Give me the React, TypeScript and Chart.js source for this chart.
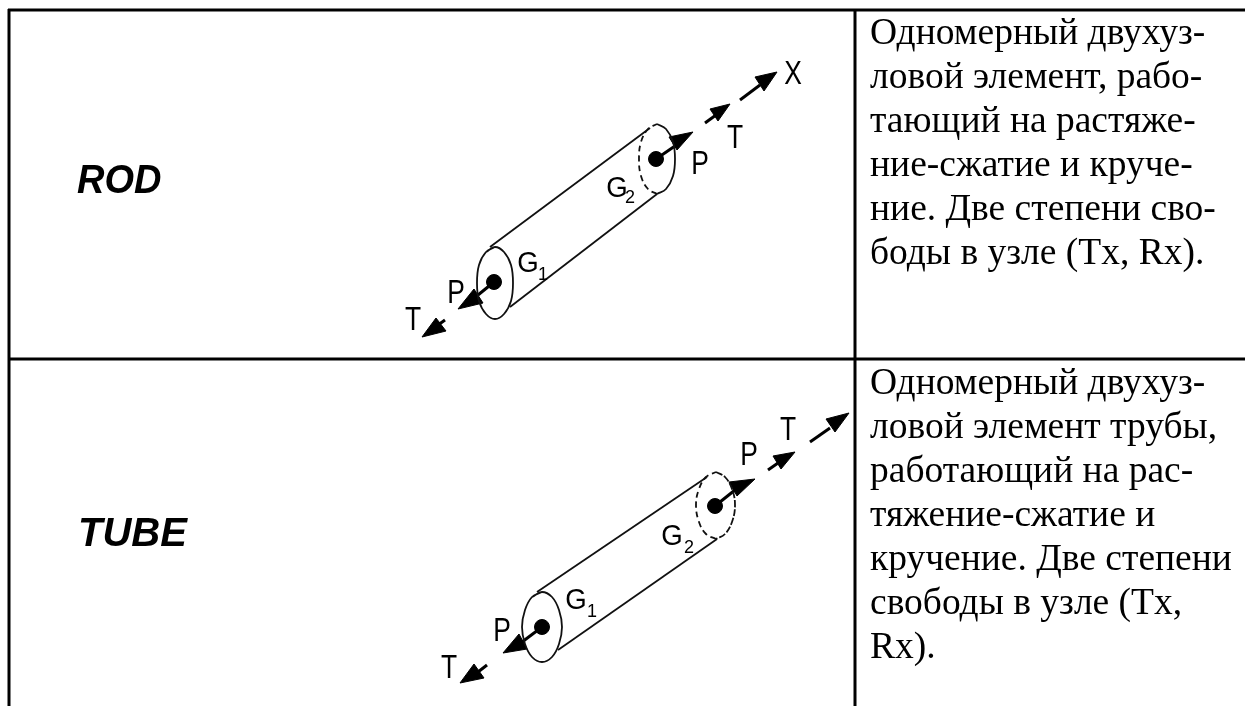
import React, { useEffect, useRef } from "react";
import { Chart, registerables } from "chart.js";

Chart.register(...registerables);

type P = [number, number];

// Table rules
const ruleTop: P[] = [[8, 10], [1245, 10]];
const ruleLeft: P[] = [[9, 9], [9, 706]];
const ruleMiddle: P[] = [[855, 9], [855, 706]];
const ruleRow: P[] = [[8, 359], [1245, 359]];

// ROD drawing
const rodCylTop: P[] = [[490, 247], [650, 128]];
const rodCylBottom: P[] = [[510, 307], [657, 194]];
const rodEndA: P[] = [[486, 252], [495, 247], [504, 252], [511, 265], [513, 283], [511, 301], [504, 314], [495, 319], [486, 314], [479, 301], [477, 283], [479, 265], [486, 252], [495, 247]];
const rodEndBSolid: P[] = [[657, 124], [666, 129], [673, 142], [675, 159], [673, 176], [666, 189], [657, 194]];
const rodEndBHidden: P[] = [[657, 194], [648, 189], [641, 176], [639, 159], [641, 142], [648, 129], [657, 124]];
const rodNodes: P[] = [[494, 282], [656, 159]];
const rodShafts: P[][] = [
  [[656, 159], [675, 146]],
  [[705, 123], [716, 115]],
  [[740, 100], [760, 85]],
  [[494, 282], [478, 295]],
  [[445, 320], [438, 325]],
];
const rodHeads: P[][] = [
  [[693, 132], [669, 137], [677, 150], [693, 132]],
  [[730, 104], [710, 109], [718, 121], [730, 104]],
  [[777, 72], [755, 77], [764, 91], [777, 72]],
  [[458, 309], [474, 289], [483, 303], [458, 309]],
  [[422, 337], [436, 318], [446, 331], [422, 337]],
];

// TUBE drawing
const tubeCylTop: P[] = [[537, 592], [707, 477]];
const tubeCylBottom: P[] = [[558, 650], [717, 539]];
const tubeEndA: P[] = [[532, 597], [542, 592], [552, 597], [559, 610], [562, 627], [559, 644], [552, 657], [542, 662], [532, 657], [525, 644], [522, 627], [525, 610], [532, 597], [542, 592]];
const tubeEndBRight: P[] = [[716, 472], [725, 477], [732, 489], [735, 505], [732, 522], [725, 534], [716, 539]];
const tubeEndBLeft: P[] = [[716, 539], [706, 534], [699, 522], [696, 505], [699, 489], [706, 477], [716, 472]];
const tubeNodes: P[] = [[542, 627], [715, 506]];
const tubeShafts: P[][] = [
  [[715, 506], [735, 490]],
  [[768, 470], [778, 463]],
  [[810, 442], [830, 428]],
  [[542, 627], [522, 642]],
  [[487, 665], [478, 672]],
];
const tubeHeads: P[][] = [
  [[755, 479], [729, 482], [737, 496], [755, 479]],
  [[795, 452], [773, 456], [781, 469], [795, 452]],
  [[849, 413], [826, 419], [835, 432], [849, 413]],
  [[503, 653], [519, 634], [527, 649], [503, 653]],
  [[460, 683], [474, 664], [484, 678], [460, 683]],
];

// Text
const rowNames = ["ROD", "TUBE"];
const rodText = [
  "Одномерный двухуз-",
  "ловой элемент, рабо-",
  "тающий на растяже-",
  "ние-сжатие и круче-",
  "ние. Две степени сво-",
  "боды в узле (Tx, Rx).",
];
const tubeText = [
  "Одномерный двухуз-",
  "ловой элемент трубы,",
  "работающий на рас-",
  "тяжение-сжатие и",
  "кручение. Две степени",
  "свободы в узле (Tx,",
  "Rx).",
];
const letterLabels: { t: string; at: P }[] = [
  { t: "X", at: [793, 84] },
  { t: "T", at: [735, 148] },
  { t: "P", at: [700, 174] },
  { t: "P", at: [456, 303] },
  { t: "T", at: [413, 330] },
  { t: "T", at: [788, 440] },
  { t: "P", at: [749, 465] },
  { t: "P", at: [502, 641] },
  { t: "T", at: [449, 678] },
];
const nodeLabels: { t: string; at: P }[] = [
  { t: "G", at: [617, 197] },
  { t: "G", at: [528, 272] },
  { t: "G", at: [672, 545] },
  { t: "G", at: [576, 609] },
];
const subscripts: { t: string; at: P }[] = [
  { t: "2", at: [630, 203] },
  { t: "1", at: [543, 280] },
  { t: "2", at: [689, 553] },
  { t: "1", at: [592, 617] },
];
const rodTextTop = 44;
const tubeTextTop = 394;
const textLead = 44;

const pts = (a: P[]) => a.map(([x, y]) => ({ x, y }));

const rule = (data: P[]) => ({
  data: pts(data), showLine: true, borderColor: "#000", borderWidth: 3, pointRadius: 0, clip: false,
});
const thin = (data: P[], dash: number[] = []) => ({
  data: pts(data), showLine: true, borderColor: "#111", borderWidth: 1.8, borderDash: dash,
  pointRadius: 0, clip: false, tension: 0.4, blur: true,
});
const shaft = (data: P[]) => ({
  data: pts(data), showLine: true, borderColor: "#000", borderWidth: 3, pointRadius: 0, clip: false, blur: true,
});
const head = (data: P[]) => ({
  data: pts(data), showLine: true, borderColor: "#000", backgroundColor: "#000", borderWidth: 1,
  fill: "shape", pointRadius: 0, clip: false, blur: true,
});
const nodes = (data: P[]) => ({
  data: pts(data), showLine: false, backgroundColor: "#000", borderColor: "#000", pointRadius: 7.5, clip: false, blur: true,
});

const tablePlugin = {
  id: "tableText",
  beforeDatasetDraw(chart: any, args: any) {
    if (chart.data.datasets[args.index].blur) {
      chart.ctx.save();
      chart.ctx.filter = "blur(0.7px)";
    }
  },
  afterDatasetDraw(chart: any, args: any) {
    if (chart.data.datasets[args.index].blur) chart.ctx.restore();
  },
  afterDatasetsDraw(chart: any) {
    const { ctx, scales } = chart;
    const X = (v: number) => scales.x.getPixelForValue(v);
    const Y = (v: number) => scales.y.getPixelForValue(v);
    const stretched = (s: string, x: number, y: number, sx: number) => {
      ctx.save();
      ctx.translate(X(x), Y(y));
      ctx.scale(sx, 1);
      ctx.fillText(s, 0, 0);
      ctx.restore();
    };
    ctx.save();
    ctx.fillStyle = "#000";
    ctx.textBaseline = "alphabetic";
    ctx.textAlign = "left";

    ctx.filter = "blur(0.3px)";
    ctx.font = '37.5px "Liberation Serif"';
    rodText.forEach((s, i) => ctx.fillText(s, X(870), Y(rodTextTop + i * textLead)));
    tubeText.forEach((s, i) => ctx.fillText(s, X(870), Y(tubeTextTop + i * textLead)));

    ctx.filter = "blur(0.7px)";
    ctx.font = 'italic bold 40px "Liberation Sans"';
    stretched(rowNames[0], 77, 193, 0.95);
    stretched(rowNames[1], 78, 546, 1);

    ctx.textAlign = "center";
    ctx.font = '33px "Liberation Sans"';
    letterLabels.forEach((l) => stretched(l.t, l.at[0], l.at[1], 0.8));
    ctx.font = '30px "Liberation Sans"';
    nodeLabels.forEach((l) => stretched(l.t, l.at[0], l.at[1], 0.92));
    ctx.font = '18px "Liberation Sans"';
    subscripts.forEach((l) => stretched(l.t, l.at[0], l.at[1], 1));
    ctx.restore();
  },
};

export default function App() {
  const ref = useRef<HTMLCanvasElement>(null);
  useEffect(() => {
    const chart = new Chart(ref.current!, {
      type: "scatter",
      data: {
        datasets: [
          rule(ruleTop), rule(ruleLeft), rule(ruleMiddle), rule(ruleRow),
          thin(rodCylTop), thin(rodCylBottom), thin(rodEndA), thin(rodEndBSolid), thin(rodEndBHidden, [6, 4]),
          thin(tubeCylTop), thin(tubeCylBottom), thin(tubeEndA), thin(tubeEndBRight, [7, 2]), thin(tubeEndBLeft, [6, 4]),
          ...rodShafts.map(shaft), ...rodHeads.map(head), nodes(rodNodes),
          ...tubeShafts.map(shaft), ...tubeHeads.map(head), nodes(tubeNodes),
        ] as any,
      },
      options: {
        animation: false,
        responsive: false,
        layout: { padding: 0, autoPadding: false },
        plugins: { legend: { display: false }, tooltip: { enabled: false } },
        scales: {
          x: { type: "linear", display: false, min: 0, max: 1245 },
          y: { type: "linear", display: false, min: 0, max: 706, reverse: true },
        },
      },
      plugins: [tablePlugin],
    });
    return () => chart.destroy();
  }, []);
  return (
    <canvas
      ref={ref}
      width={1245}
      height={706}
      style={{ position: "fixed", left: 0, top: 0, width: 1245, height: 706, display: "block", background: "#fff" }}
    />
  );
}
